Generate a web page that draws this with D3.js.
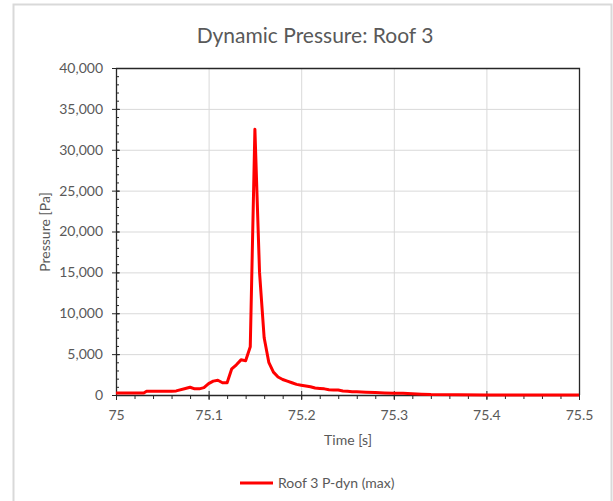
<!DOCTYPE html>
<html lang="en">
<head>
    <meta charset="UTF-8">
    <title>Dynamic Pressure: Roof 3</title>
    <script src="https://d3js.org/d3.v7.min.js"></script>
    <style>
        body{
            margin: 0;
            background-color: white;
        }
        svg text{
            font-family: Lato, "Open Sans", sans-serif;
            fill: #595959;
        }
        .axis path, .axis line{
            stroke: #262626;
        }
        .grid line{
            stroke: #d9d9d9;
        }
    </style>
</head>
<body>
<svg id="canvas" width="613" height="501"></svg>
<script>
    // time [s] and max dynamic pressure [Pa]
    let times = [75.000, 75.030, 75.033, 75.060, 75.065, 75.075, 75.080, 75.085, 75.090, 75.095,
                 75.100, 75.105, 75.110, 75.115, 75.120, 75.125, 75.130, 75.135, 75.140, 75.145,
                 75.150, 75.155, 75.160, 75.165, 75.170, 75.175, 75.180, 75.185, 75.190, 75.195,
                 75.200, 75.205, 75.210, 75.215, 75.220, 75.225, 75.230, 75.235, 75.240, 75.245,
                 75.250, 75.255, 75.260, 75.270, 75.280, 75.290, 75.300, 75.310, 75.320, 75.330,
                 75.340, 75.400, 75.500];
    let pressure = [250, 250, 450, 450, 500, 800, 950, 750, 750, 900,
                    1400, 1700, 1800, 1500, 1500, 3200, 3700, 4300, 4200, 5900,
                    32500, 15000, 7000, 4000, 2800, 2200, 1900, 1700, 1500, 1300,
                    1200, 1100, 1000, 850, 800, 750, 650, 600, 600, 500,
                    450, 400, 400, 350, 300, 250, 200, 200, 150, 100,
                    50, 0, 0];
    let xTicks = [75, 75.1, 75.2, 75.3, 75.4, 75.5];
    let yTicks = [0, 5000, 10000, 15000, 20000, 25000, 30000, 35000, 40000];
    let seriesName = "Roof 3 P-dyn (max)";

    let svg = d3.select('#canvas');

    // outer chart frame
    svg.append('rect')
        .attr("x", 13.5).attr("y", 4.5)
        .attr("width", 598).attr("height", 510)
        .attr("fill", "none")
        .attr("stroke", "#d9d9d9")
        .attr("stroke-width", 2);

    let pLeft = 116, pRight = 579, pTop = 68, pBottom = 395;
    let x = d3.scaleLinear().domain([75, 75.5]).range([pLeft, pRight]);
    let y = d3.scaleLinear().domain([0, 40000]).range([pBottom, pTop]);

    // gridlines
    let grid = svg.append('g').attr("class", "grid");
    grid.selectAll('line.h')
        .data(yTicks.slice(1, -1))
        .enter().append('line')
        .attr("x1", pLeft).attr("x2", pRight)
        .attr("y1", d => y(d) + .5).attr("y2", d => y(d) + .5);
    grid.selectAll('line.v')
        .data(xTicks.slice(1, -1))
        .enter().append('line')
        .attr("x1", d => x(d) + .5).attr("x2", d => x(d) + .5)
        .attr("y1", pTop).attr("y2", pBottom);

    // plot border top/right
    svg.append('path')
        .attr("d", `M${pLeft},${pTop + .5}H${pRight + .5}V${pBottom}`)
        .attr("fill", "none")
        .attr("stroke", "#262626")
        .attr("stroke-width", 1.3);

    // minor ticks
    let xMinor = d3.range(0, 26).map(i => 75 + i * 0.02);
    let yMinor = d3.range(0, 41).map(i => i * 1000);
    svg.append('g').attr("class", "axis")
        .attr("transform", `translate(0,${pBottom})`)
        .call(d3.axisBottom(x).tickValues(xMinor).tickSize(4).tickFormat(""))
        .select('.domain').remove();
    svg.append('g').attr("class", "axis")
        .attr("transform", `translate(${pLeft},0)`)
        .call(d3.axisLeft(y).tickValues(yMinor).tickSize(-3).tickFormat(""))
        .select('.domain').remove();

    // major axes
    let xAxis = svg.append('g').attr("class", "axis")
        .attr("transform", `translate(0,${pBottom})`)
        .call(d3.axisBottom(x).tickValues(xTicks).tickSizeInner(5).tickSizeOuter(0).tickPadding(10)
            .tickFormat(d => d === 75 ? "75" : d3.format(".1f")(d)));
    xAxis.selectAll('.tick line').attr("y1", -4);
    xAxis.select('.domain').attr("stroke-width", 1.3);
    xAxis.selectAll('text').attr("font-size", "14px");

    let yAxis = svg.append('g').attr("class", "axis")
        .attr("transform", `translate(${pLeft},0)`)
        .call(d3.axisLeft(y).tickValues(yTicks).tickSizeInner(4).tickSizeOuter(0).tickPadding(9)
            .tickFormat(d3.format(",")));
    yAxis.selectAll('.tick line').attr("x1", 4);
    yAxis.select('.domain').attr("stroke-width", 1.3);
    yAxis.selectAll('text').attr("font-size", "14px");

    // data line
    let line = d3.line()
        .x((d, i) => x(times[i]))
        .y(d => y(d));
    svg.append('path')
        .datum(pressure)
        .attr("d", line)
        .attr("fill", "none")
        .attr("stroke", "#ff0000")
        .attr("stroke-width", 3)
        .attr("stroke-linejoin", "round");

    // title and axis titles
    svg.append('text')
        .attr("x", 315).attr("y", 43)
        .attr("text-anchor", "middle")
        .attr("font-size", "21px")
        .text("Dynamic Pressure: Roof 3");
    svg.append('text')
        .attr("x", 348).attr("y", 445)
        .attr("text-anchor", "middle")
        .attr("font-size", "14px")
        .text("Time [s]");
    svg.append('text')
        .attr("transform", "translate(50,232) rotate(-90)")
        .attr("text-anchor", "middle")
        .attr("font-size", "14px")
        .text("Pressure [Pa]");

    // legend
    svg.append('line')
        .attr("x1", 240).attr("x2", 273)
        .attr("y1", 483).attr("y2", 483)
        .attr("stroke", "#ff0000")
        .attr("stroke-width", 3);
    svg.append('text')
        .attr("x", 278).attr("y", 488)
        .attr("font-size", "14px")
        .text(seriesName);
</script>
</body>
</html>
